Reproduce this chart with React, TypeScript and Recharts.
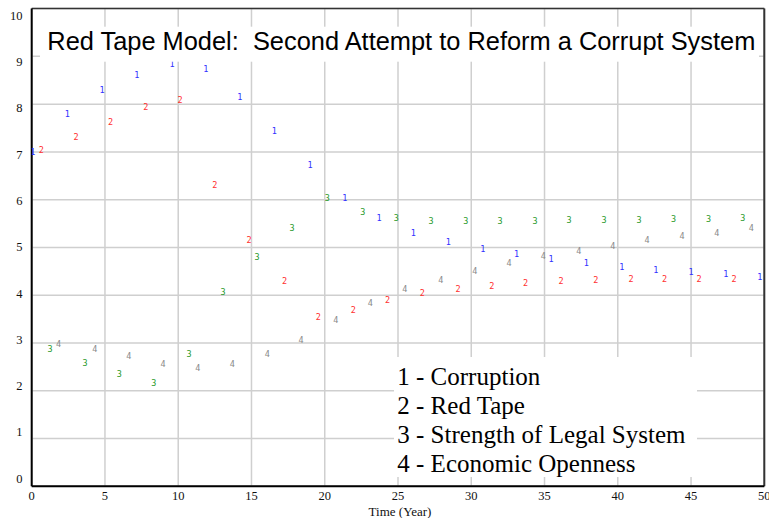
import React from "react";
import {
  ScatterChart,
  Scatter,
  XAxis,
  YAxis,
  CartesianGrid,
  ReferenceLine,
} from "recharts";

// ---- Data ----
const corruptionTime = [0.08, 2.43, 4.8, 7.17, 9.58, 11.88, 14.2, 16.56, 19.0, 21.37, 23.7, 26.05, 28.44, 30.78, 33.1, 35.45, 37.85, 40.27, 42.6, 45.0, 47.37, 49.7];
const corruptionValue = [7.0, 7.79, 8.3, 8.61, 8.85, 8.74, 8.15, 7.44, 6.73, 6.04, 5.62, 5.3, 5.11, 4.97, 4.86, 4.76, 4.67, 4.59, 4.52, 4.48, 4.44, 4.38];

const redTapeTime = [0.66, 3.02, 5.39, 7.78, 10.12, 12.49, 14.83, 17.26, 19.56, 21.95, 24.28, 26.66, 29.1, 31.4, 33.7, 36.13, 38.5, 40.9, 43.2, 45.55, 47.94];
const redTapeValue = [7.04, 7.32, 7.63, 7.94, 8.09, 6.31, 5.16, 4.3, 3.54, 3.69, 3.9, 4.05, 4.13, 4.19, 4.26, 4.3, 4.32, 4.34, 4.34, 4.34, 4.34];

const legalTime = [1.25, 3.64, 5.98, 8.33, 10.74, 13.06, 15.38, 17.77, 20.18, 22.6, 24.89, 27.26, 29.63, 31.97, 34.36, 36.67, 39.06, 41.45, 43.8, 46.2, 48.53];
const legalValue = [2.88, 2.58, 2.35, 2.16, 2.77, 4.07, 4.8, 5.41, 6.04, 5.74, 5.62, 5.55, 5.55, 5.55, 5.55, 5.57, 5.57, 5.57, 5.6, 5.6, 5.62];

const opennessTime = [1.84, 4.3, 6.62, 8.96, 11.33, 13.7, 16.08, 18.38, 20.75, 23.11, 25.46, 27.92, 30.24, 32.58, 34.92, 37.34, 39.66, 42.0, 44.39, 46.76, 49.12];
const opennessValue = [2.97, 2.87, 2.72, 2.57, 2.48, 2.57, 2.77, 3.06, 3.48, 3.84, 4.12, 4.32, 4.51, 4.67, 4.82, 4.93, 5.04, 5.16, 5.23, 5.3, 5.41];

const xTicks = [0, 5, 10, 15, 20, 25, 30, 35, 40, 45, 50];
const yTicks = [0, 1, 2, 3, 4, 5, 6, 7, 8, 9, 10];

const titleText = "Red Tape Model:  Second Attempt to Reform a Corrupt System";
const legendLabels = [
  "1 - Corruption",
  "2 - Red Tape",
  "3 - Strength of Legal System",
  "4 - Economic Openness",
];
const xAxisLabel = "Time (Year)";

const seriesDefs = [
  { key: "1", time: corruptionTime, value: corruptionValue, color: "#3030ff" },
  { key: "2", time: redTapeTime, value: redTapeValue, color: "#ff3030" },
  { key: "3", time: legalTime, value: legalValue, color: "#2a9a2a" },
  { key: "4", time: opennessTime, value: opennessValue, color: "#8a8a8a" },
];

const W = 769;
const H = 518;

const makeShape = (label: string, color: string) => (props: any) => {
  const { cx, cy } = props;
  if (cx == null || cy == null) return <g />;
  return (
    <text
      x={cx}
      y={cy}
      textAnchor="middle"
      dominantBaseline="central"
      fontFamily="DejaVu Sans Mono"
      fontSize={8.5}
      fill={color}
      stroke="none"
    >
      {label}
    </text>
  );
};

const YTick = (props: any) => {
  const { y, payload } = props;
  const v = payload.value;
  return (
    <text
      x={22.5}
      y={y + 1.5 * (v - 5) - 0.2}
      textAnchor="end"
      dominantBaseline="central"
      fontFamily="Liberation Serif"
      fontSize={12.5}
      fill="#111"
    >
      {v}
    </text>
  );
};

const XTick = (props: any) => {
  const { x, payload } = props;
  return (
    <text
      x={x}
      y={496.3}
      textAnchor="middle"
      dominantBaseline="central"
      fontFamily="Liberation Serif"
      fontSize={12.5}
      fill="#111"
    >
      {payload.value}
    </text>
  );
};

export default function App() {
  return (
    <div
      style={{
        position: "absolute",
        left: 0,
        top: 0,
        width: W,
        height: H,
        background: "#fff",
      }}
    >
      <ScatterChart
        width={W}
        height={H}
        margin={{ top: 8.6, right: 4.7, bottom: 0, left: 0 }}
      >
        <CartesianGrid stroke="#cfcfcf" strokeWidth={1.5} />
        <XAxis
          type="number"
          dataKey="t"
          domain={[0, 50]}
          ticks={xTicks}
          interval={0}
          height={31.7}
          tickLine={false}
          axisLine={{ stroke: "#000", strokeWidth: 2 }}
          tick={<XTick />}
          allowDataOverflow
        />
        <YAxis
          type="number"
          dataKey="v"
          domain={[0, 10]}
          ticks={yTicks}
          interval={0}
          width={31.7}
          tickLine={false}
          axisLine={{ stroke: "#000", strokeWidth: 2 }}
          tick={<YTick />}
          allowDataOverflow
        />
        <ReferenceLine y={10} stroke="#333" strokeWidth={1.5} />
        <ReferenceLine x={50} stroke="#333" strokeWidth={2} />
        {seriesDefs.map((s) => (
          <Scatter
            key={s.key}
            name={s.key}
            data={s.time.map((t, i) => ({ t, v: s.value[i] }))}
            fill={s.color}
            shape={makeShape(s.key, s.color)}
            isAnimationActive={false}
          />
        ))}
      </ScatterChart>
      <svg
        width={W}
        height={H}
        style={{ position: "absolute", left: 0, top: 0, pointerEvents: "none" }}
      >
        <rect x={40} y={26.7} width={719} height={35} fill="#fff" />
        <text
          x={47.3}
          y={50}
          fontFamily="Liberation Sans"
          fontSize={25.4}
          fill="#000"
          style={{ whiteSpace: "pre" }}
          xmlSpace="preserve"
        >
          {titleText}
        </text>
        <rect x={394} y={357} width={303} height={120} fill="#fff" />
        {legendLabels.map((l, i) => (
          <text
            key={l}
            x={397.3}
            y={384.5 + i * 29.3}
            fontFamily="Liberation Serif"
            fontSize={25}
            fill="#000"
          >
            {l}
          </text>
        ))}
        <text
          x={400}
          y={516}
          textAnchor="middle"
          fontFamily="Liberation Serif"
          fontSize={13}
          fill="#111"
        >
          {xAxisLabel}
        </text>
      </svg>
    </div>
  );
}
